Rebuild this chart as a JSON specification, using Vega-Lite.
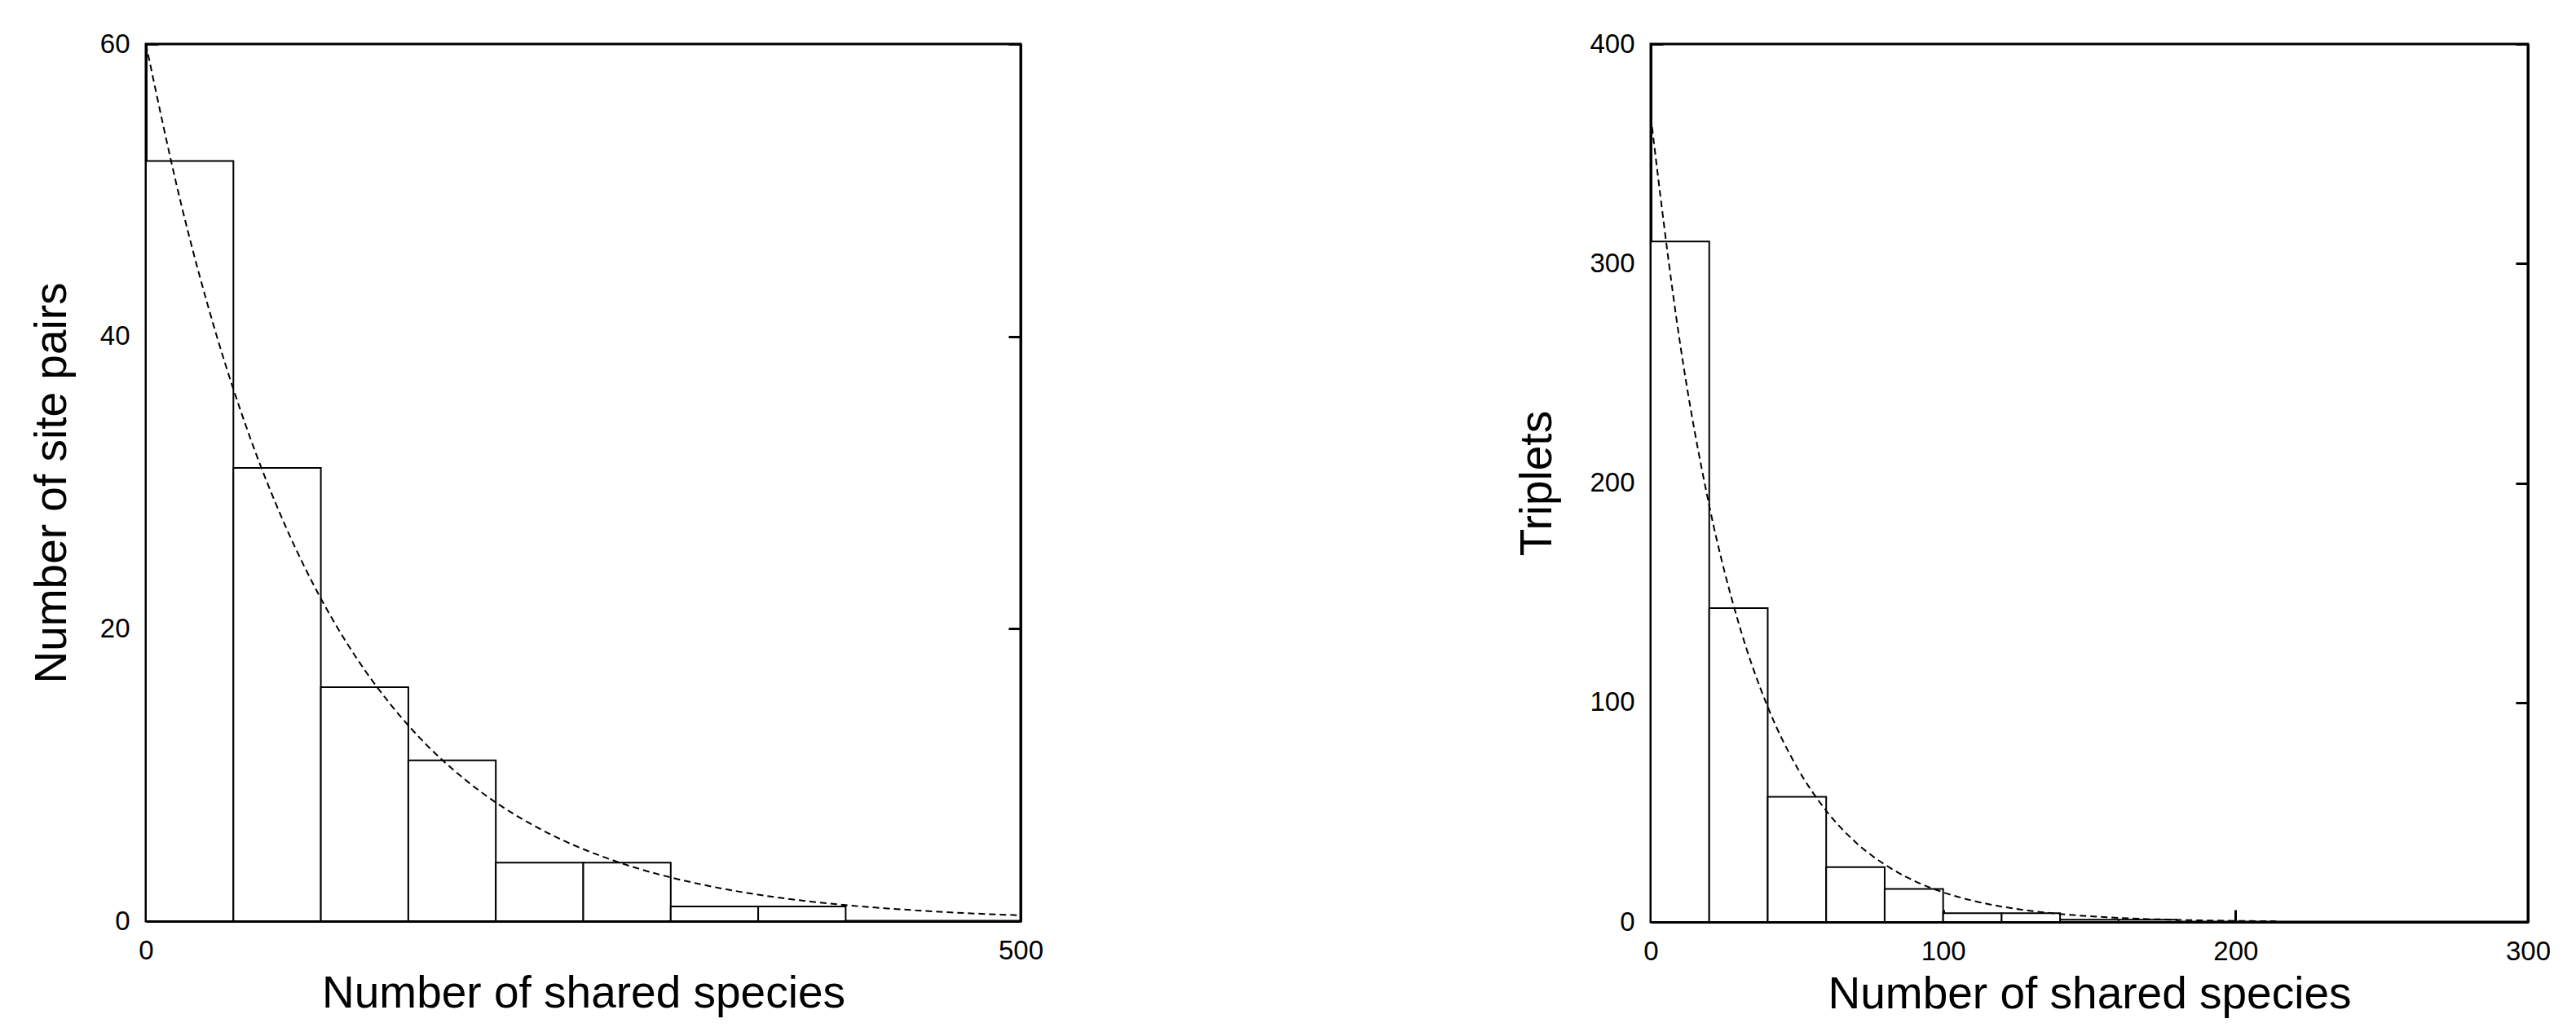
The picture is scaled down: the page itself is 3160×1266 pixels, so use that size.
{
  "$schema": "https://vega.github.io/schema/vega-lite/v6.json",
  "background": "white",
  "padding": {"left": 34, "top": 36, "right": 0, "bottom": 0},
  "spacing": 575,
  "datasets": {
    "pairs": [
      {"start": 0, "end": 50, "count": 52},
      {"start": 50, "end": 100, "count": 31},
      {"start": 100, "end": 150, "count": 16},
      {"start": 150, "end": 200, "count": 11},
      {"start": 200, "end": 250, "count": 4},
      {"start": 250, "end": 300, "count": 4},
      {"start": 300, "end": 350, "count": 1},
      {"start": 350, "end": 400, "count": 1}
    ],
    "pairsFit": [
      {"x": 0, "y": 60.0}, {"x": 20, "y": 49.12}, {"x": 40, "y": 40.22}, {"x": 60, "y": 32.93},
      {"x": 80, "y": 26.96}, {"x": 100, "y": 22.07}, {"x": 120, "y": 18.07}, {"x": 140, "y": 14.8},
      {"x": 160, "y": 12.11}, {"x": 180, "y": 9.92}, {"x": 200, "y": 8.12}, {"x": 220, "y": 6.65},
      {"x": 240, "y": 5.44}, {"x": 260, "y": 4.46}, {"x": 280, "y": 3.65}, {"x": 300, "y": 2.99},
      {"x": 320, "y": 2.45}, {"x": 340, "y": 2.0}, {"x": 360, "y": 1.64}, {"x": 380, "y": 1.34},
      {"x": 400, "y": 1.1}, {"x": 420, "y": 0.9}, {"x": 440, "y": 0.74}, {"x": 460, "y": 0.6},
      {"x": 480, "y": 0.49}, {"x": 500, "y": 0.4}
    ],
    "triplets": [
      {"start": 0, "end": 20, "count": 310},
      {"start": 20, "end": 40, "count": 143},
      {"start": 40, "end": 60, "count": 57},
      {"start": 60, "end": 80, "count": 25},
      {"start": 80, "end": 100, "count": 15},
      {"start": 100, "end": 120, "count": 4},
      {"start": 120, "end": 140, "count": 4},
      {"start": 140, "end": 160, "count": 1},
      {"start": 160, "end": 180, "count": 1}
    ],
    "tripletsFit": [
      {"x": 0, "y": 367}, {"x": 10, "y": 263.8}, {"x": 20, "y": 189.7}, {"x": 30, "y": 136.4},
      {"x": 40, "y": 98.0}, {"x": 50, "y": 70.5}, {"x": 60, "y": 50.7}, {"x": 70, "y": 36.4},
      {"x": 80, "y": 26.2}, {"x": 90, "y": 18.8}, {"x": 100, "y": 13.5}, {"x": 110, "y": 9.73},
      {"x": 120, "y": 7.0}, {"x": 130, "y": 5.03}, {"x": 140, "y": 3.62}, {"x": 150, "y": 2.6},
      {"x": 160, "y": 1.87}, {"x": 170, "y": 1.34}, {"x": 180, "y": 0.97}, {"x": 190, "y": 0.69},
      {"x": 200, "y": 0.5}, {"x": 214, "y": 0.32}
    ]
  },
  "hconcat": [
    {
      "width": 1073,
      "height": 1076,
      "layer": [
        {
          "data": {"name": "pairs"},
          "mark": {"type": "rect", "fill": "white", "stroke": "black", "strokeWidth": 2},
          "encoding": {
            "x": {"field": "start", "type": "quantitative", "scale": {"domain": [0, 500], "nice": false},
                  "axis": {"values": [0, 500], "title": "Number of shared species"}},
            "x2": {"field": "end"},
            "y": {"field": "count", "type": "quantitative", "scale": {"domain": [0, 60], "nice": false},
                  "axis": {"values": [0, 20, 40, 60], "title": "Number of site pairs", "orient": "left"}},
            "y2": {"datum": 0}
          }
        },
        {
          "data": {"name": "pairsFit"},
          "mark": {"type": "line", "color": "black", "strokeWidth": 2, "strokeDash": [8, 5], "interpolate": "monotone"},
          "encoding": {
            "x": {"field": "x", "type": "quantitative"},
            "y": {"field": "y", "type": "quantitative",
                  "axis": {"values": [0, 20, 40, 60], "orient": "right", "labels": false, "title": null}}
          }
        }
      ],
      "resolve": {"axis": {"y": "independent"}}
    },
    {
      "width": 1076,
      "height": 1077,
      "layer": [
        {
          "data": {"name": "triplets"},
          "mark": {"type": "rect", "fill": "white", "stroke": "black", "strokeWidth": 2},
          "encoding": {
            "x": {"field": "start", "type": "quantitative", "scale": {"domain": [0, 300], "nice": false},
                  "axis": {"values": [0, 100, 200, 300], "title": "Number of shared species"}},
            "x2": {"field": "end"},
            "y": {"field": "count", "type": "quantitative", "scale": {"domain": [0, 400], "nice": false},
                  "axis": {"values": [0, 100, 200, 300, 400], "title": "Triplets", "orient": "left", "titlePadding": 35}},
            "y2": {"datum": 0}
          }
        },
        {
          "data": {"name": "tripletsFit"},
          "mark": {"type": "line", "color": "black", "strokeWidth": 2, "strokeDash": [8, 5], "interpolate": "monotone"},
          "encoding": {
            "x": {"field": "x", "type": "quantitative"},
            "y": {"field": "y", "type": "quantitative",
                  "axis": {"values": [0, 100, 200, 300, 400], "orient": "right", "labels": false, "title": null}}
          }
        }
      ],
      "resolve": {"axis": {"y": "independent"}}
    }
  ],
  "config": {
    "view": {"stroke": "black", "strokeWidth": 3},
    "axis": {
      "grid": false,
      "domainColor": "black",
      "domainWidth": 3,
      "tickColor": "black",
      "tickWidth": 3,
      "tickSize": -15,
      "labelPadding": 35,
      "labelFlush": false,
      "labelFont": "Liberation Sans",
      "labelFontSize": 33,
      "labelColor": "black",
      "titleFont": "Liberation Sans",
      "titleFontSize": 55,
      "titleFontWeight": "normal",
      "titleColor": "black",
      "titlePadding": 30
    },
    "axisX": {"titlePadding": 9}
  }
}
